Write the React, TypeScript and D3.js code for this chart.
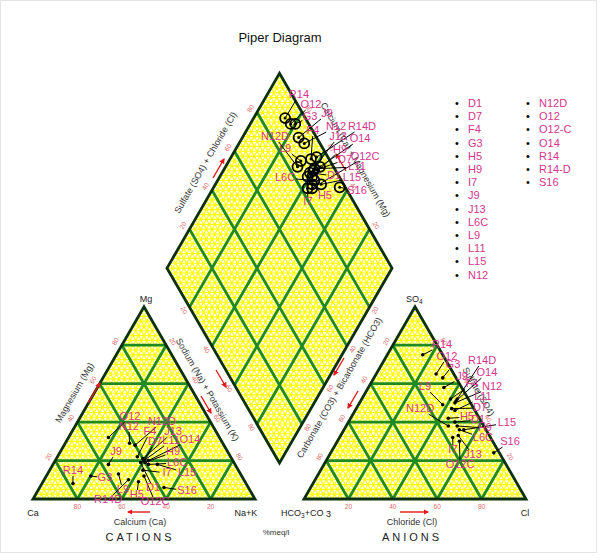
import React from "react";
import * as d3 from "d3";

// ---------------- DATA ----------------
const legendNames = ["D1","D7","F4","G3","H5","H9","I7","J9","J13","L6C","L9","L11","L15","N12","N12D","O12","O12-C","O14","R14","R14-D","S16"];
const plotNames = ["D1","D7","F4","G3","H5","H9","I7","J9","J13","L6C","L9","L11","L15","N12","N12D","O12","O12C","O14","R14","R14D","S16"];
// cations (% meq/l)
const caPct = [42,40,42,68,48,40,43,57,40,39,55,40,35,42,40,50,44,38,78,52,38];
const mgPct = [19,20,22,12,9,19,15,18,21,18,13,20,18,29,28,32,12,20,8,10,6];
const naPct = [39,40,36,20,43,41,42,25,39,43,32,40,47,29,32,18,44,42,14,38,56];
// anions (% meq/l)
const hco3Pct = [12,10,8,6,14,12,17,8,14,12,13,9,10,7,16,8,15,6,9,5,2.5];
const so4Pct = [40,47,52,63,42,38,32,58,33,36,49,46,36,50,38,65,30,51,75,52,24];
const clPct = [48,43,40,31,44,50,51,34,53,52,38,45,54,43,46,27,55,43,16,43,73.5];
// label anchors, in each panel's percent space [across, up]
const cationLabelAt = [[54.1,5.7],[55,29.6],[52.7,34.8],[32.4,10.9],[46.8,2.1],[63.1,24.4],[60.4,13.5],[37.4,24.4],[63.1,34.8],[64.9,18.7],[40.5,4.7],[62.2,30.2],[69.4,13.5],[43.2,37.4],[58.1,40],[43.7,42.6],[55,-1.6],[70.7,30.7],[18,14.6],[33.8,-0.5],[69.4,4.2]];
const anionLabelAt = [[78.4,41.1],[79.3,47.3],[75.7,59.8],[67.1,69.7],[73.4,42.6],[81.5,36.9],[67.1,25.5],[71.2,63.4],[76.1,22.9],[80.6,31.7],[54.5,58.2],[80.6,53],[91.4,39.5],[84.7,58.2],[52.3,46.8],[64.4,73.8],[70.3,17.7],[82.4,65.5],[62.2,80.1],[80.2,71.8],[92.8,29.6]];
const diamondLabelAt = [[48.4,147.3],[58.2,155.5],[29.8,170.3],[27.1,177.5],[40.4,137],[53.8,160.6],[25.3,133.9],[42.2,179.1],[52,167.3],[4.9,146.2],[4.9,161.1],[68.9,151.9],[64.4,146.2],[50.2,172.4],[-4,167.3],[28,183.7],[76,157],[71.6,166.2],[17.3,188.8],[73.3,172.4],[68.9,139.6]];
const tickValues = [20, 40, 60, 80];

// ---------------- LAYOUT ----------------
const W = 603, H = 560;
const S60 = Math.sqrt(3) / 2;
const TRI = 222, BASE = 499, CAT_X0 = 33, AN_X0 = 304;
const DIA = 225, DIA_CX = 279.5, DIA_BY = 463;
const FONT = "Liberation Sans, Arial, Helvetica, sans-serif";
const PINK = "#d6358e";
const TICKRED = "#e06a6a";
const GREEN = "#1f8a1f";
const EDGE = "#0c2f0c";
const FINE = 2.5;

const catX = d3.scaleLinear().domain([0, 100]).range([CAT_X0, CAT_X0 + TRI]);
const anX = d3.scaleLinear().domain([0, 100]).range([AN_X0, AN_X0 + TRI]);
const triY = d3.scaleLinear().domain([0, 100]).range([BASE, BASE - TRI * S60]);
const diaX = d3.scaleLinear().domain([-100, 100]).range([DIA_CX - DIA / 2, DIA_CX + DIA / 2]);
const diaY = d3.scaleLinear().domain([0, 200]).range([DIA_BY, DIA_BY - 2 * DIA * S60]);

type P = [number, number];
const catPt = (na: number, mg: number): P => [catX(na + mg / 2), triY(mg)];
const anPt = (cl: number, so4: number): P => [anX(cl + so4 / 2), triY(so4)];
const diaPt = (u: number, v: number): P => [diaX(v - u), diaY(u + v)];

const line = d3.line<P>();

function triSegs(step: number): [P, P][] {
  const out: [P, P][] = [];
  for (let k = step; k < 100 - 1e-9; k += step) {
    out.push([[0, k], [100 - k, k]]);
    out.push([[k, 0], [k, 100 - k]]);
    out.push([[100 - k, 0], [0, 100 - k]]);
  }
  return out;
}
function diaSegs(step: number, horiz: boolean): [P, P][] {
  const out: [P, P][] = [];
  for (let k = step; k < 100 - 1e-9; k += step) {
    out.push([[k, 0], [k, 100]]);
    out.push([[0, k], [100, k]]);
  }
  if (horiz) {
    for (let s = step; s < 200 - 1e-9; s += step) {
      if (s <= 100) out.push([[s, 0], [0, s]]);
      else out.push([[100, s - 100], [s - 100, 100]]);
    }
  }
  return out;
}

function segPath(segs: [P, P][], f: (a: number, b: number) => P) {
  return segs.map(([a, b]) => line([f(a[0], a[1]), f(b[0], b[1])])).join("");
}

function leader(p: P, c: P, name: string): P | null {
  const hw = name.length * 3.3 + 1, hh = 5;
  const dx = c[0] - p[0], dy = c[1] - p[1];
  const t = Math.min(dx !== 0 ? hw / Math.abs(dx) : Infinity, dy !== 0 ? hh / Math.abs(dy) : Infinity);
  if (t >= 1) return null;
  return [c[0] - dx * t, c[1] - dy * t];
}

function Panel({ outline, fine, major, }: { outline: P[]; fine: string; major: string }) {
  return (
    <g>
      <path d={fine} stroke="#ffff00" strokeWidth={1.15} fill="none" />
      <path d={major} stroke={GREEN} strokeWidth={2.8} fill="none" />
      <path d={line(outline)! + "Z"} stroke={EDGE} strokeWidth={2.8} fill="none" strokeLinejoin="miter" />
    </g>
  );
}

function TickText({ p, normal, rot, text }: { p: P; normal: P; rot: number; text: string }) {
  const x = p[0] + normal[0] * 7, y = p[1] + normal[1] * 7;
  return (
    <text x={x} y={y} transform={`rotate(${rot},${x},${y})`} fontSize={6.5} fill={TICKRED} textAnchor="middle" dominantBaseline="middle" fontFamily={FONT}>{text}</text>
  );
}

function Arrow({ from, to }: { from: P; to: P }) {
  return <line x1={from[0]} y1={from[1]} x2={to[0]} y2={to[1]} stroke="#e41a1a" strokeWidth={1.4} markerEnd="url(#ah)" />;
}

function RotText({ x, y, rot, children, size = 9 }: { x: number; y: number; rot: number; children: any; size?: number }) {
  return (
    <text x={x} y={y} transform={`rotate(${rot},${x},${y})`} fontSize={size} fill="#333" textAnchor="middle" dominantBaseline="middle" fontFamily={FONT}>{children}</text>
  );
}

export default function App() {
  const n = plotNames.length;
  const catPts = d3.range(n).map((i) => catPt(naPct[i], mgPct[i]));
  const anPts = d3.range(n).map((i) => anPt(clPct[i], so4Pct[i]));
  const diaPts = d3.range(n).map((i) => diaPt(caPct[i] + mgPct[i], so4Pct[i] + clPct[i]));
  const catLab = cationLabelAt.map(([a, b]) => [catX(a), triY(b)] as P);
  const anLab = anionLabelAt.map(([a, b]) => [anX(a), triY(b)] as P);
  const diaLab = diamondLabelAt.map(([a, b]) => [diaX(a), diaY(b)] as P);

  const tri = triSegs(FINE);
  const triMajor = triSegs(20);
  const catOutline: P[] = [catPt(0, 0), catPt(100, 0), catPt(0, 100)];
  const anOutline: P[] = [anPt(0, 0), anPt(100, 0), anPt(0, 100)];
  const diaOutline: P[] = [diaPt(0, 0), diaPt(100, 0), diaPt(100, 100), diaPt(0, 100)];

  const nl: P = [-S60, -0.5], nr: P = [S60, -0.5], nll: P = [-S60, 0.5], nlr: P = [S60, 0.5];

  const renderMarks = (pts: P[], labs: P[], ring: boolean) => (
    <g>
      {pts.map((p, i) => {
        const e = leader(p, labs[i], plotNames[i]);
        return e ? <line key={"l" + i} x1={p[0]} y1={p[1]} x2={e[0]} y2={e[1]} stroke="#000" strokeWidth={1} /> : null;
      })}
      {pts.map((p, i) => ring ? (
        <g key={"p" + i}>
          <circle cx={p[0]} cy={p[1]} r={5} fill="none" stroke="#000" strokeWidth={1.8} />
          <circle cx={p[0]} cy={p[1]} r={1.5} fill="#000" />
        </g>
      ) : (
        <circle key={"p" + i} cx={p[0]} cy={p[1]} r={1.8} fill="#000" />
      ))}
      {labs.map((c, i) => (
        <text key={"t" + i} x={c[0]} y={c[1]} fontSize={11} fill={PINK} textAnchor="middle" dominantBaseline="middle" fontFamily={FONT}>{plotNames[i]}</text>
      ))}
    </g>
  );

  return (
    <svg width={W} height={H} style={{ position: "absolute", left: 0, top: 0, background: "#fff" }} fontFamily={FONT}>
      <defs>
        <marker id="ah" viewBox="0 0 10 10" refX="8" refY="5" markerWidth="4" markerHeight="4" orient="auto">
          <path d="M0,0L10,5L0,10Z" fill="#e41a1a" />
        </marker>
      </defs>
      <rect x={0.5} y={0.5} width={W - 7} height={H - 8} fill="#fff" stroke="#e4e4e4" />
      <text x={280} y={42} fontSize={13} textAnchor="middle" fontFamily={FONT} fill="#111">Piper Diagram</text>

      <Panel outline={catOutline} fine={segPath(tri, catPt)} major={segPath(triMajor, catPt)} />
      <Panel outline={anOutline} fine={segPath(tri, anPt)} major={segPath(triMajor, anPt)} />
      <Panel outline={diaOutline} fine={segPath(diaSegs(FINE, true), diaPt)} major={segPath(diaSegs(20, false), diaPt)} />

      {/* tick labels */}
      {tickValues.map((k) => (
        <g key={"tk" + k}>
          <TickText p={catPt(100 - k, 0)} normal={[0, 1.15]} rot={0} text={String(k)} />
          <TickText p={catPt(0, k)} normal={nl} rot={-60} text={String(k)} />
          <TickText p={catPt(k, 100 - k)} normal={nr} rot={60} text={String(k)} />
          <TickText p={anPt(k, 0)} normal={[0, 1.15]} rot={0} text={String(k)} />
          <TickText p={anPt(0, 100 - k)} normal={nl} rot={-60} text={String(k)} />
          <TickText p={anPt(100 - k, k)} normal={nr} rot={60} text={String(k)} />
          <TickText p={diaPt(100, k)} normal={nl} rot={-60} text={String(k)} />
          <TickText p={diaPt(k, 100)} normal={nr} rot={60} text={String(k)} />
          <TickText p={diaPt(100 - k, 0)} normal={nll} rot={60} text={String(k)} />
          <TickText p={diaPt(0, 100 - k)} normal={nlr} rot={-60} text={String(k)} />
        </g>
      ))}

      {/* axis titles */}
      <RotText x={75} y={393} rot={-60}>Magnesium (Mg)</RotText>
      <Arrow from={[88, 403]} to={[100, 383]} />
      <RotText x={207} y={390} rot={60}>Sodium (Na) + Potassium (K)</RotText>
      <Arrow from={[216, 370]} to={[226, 387]} />
      <Arrow from={[201, 396]} to={[211, 413]} />
      <RotText x={340} y={388} rot={-60}>Carbonate (CO3) + Bicarbonate (HCO3)</RotText>
      <Arrow from={[344, 358]} to={[334, 375]} />
      <Arrow from={[358, 391]} to={[348, 408]} />
      <RotText x={206} y={163} rot={-60}>Sulfate (SO4) + Chloride (Cl)</RotText>
      <Arrow from={[213, 178]} to={[224, 159]} />
      <RotText x={355} y={160} rot={60}>Calcium (Ca) + Magnesium (Mg)</RotText>
      <Arrow from={[346, 171]} to={[336, 154]} />
      <RotText x={478} y={392} rot={60}>Sulfate (SO4)</RotText>
      <Arrow from={[150, 512]} to={[128, 512]} />
      <Arrow from={[400, 512]} to={[428, 512]} />
      <text x={140} y={523} fontSize={9} textAnchor="middle" fill="#333" dominantBaseline="middle">Calcium (Ca)</text>
      <text x={412} y={523} fontSize={9} textAnchor="middle" fill="#333" dominantBaseline="middle">Chloride (Cl)</text>
      <text x={140} y={538} fontSize={11} textAnchor="middle" fill="#222" letterSpacing={3} dominantBaseline="middle">CATIONS</text>
      <text x={412} y={538} fontSize={11} textAnchor="middle" fill="#222" letterSpacing={3} dominantBaseline="middle">ANIONS</text>
      <text x={276} y={533} fontSize={8} textAnchor="middle" fill="#333" dominantBaseline="middle">%meq/l</text>

      {/* corner labels */}
      <text x={146} y={302} fontSize={9} textAnchor="middle" fill="#222">Mg</text>
      <text x={33} y={516} fontSize={9} textAnchor="middle" fill="#222">Ca</text>
      <text x={246} y={516} fontSize={9} textAnchor="middle" fill="#222">Na+K</text>
      <text x={281} y={516} fontSize={9} textAnchor="start" fill="#222">HCO<tspan fontSize={6.5} dy={2}>3</tspan><tspan dy={-2}>+CO </tspan><tspan dy={1}>3</tspan></text>
      <text x={525} y={516} fontSize={9} textAnchor="middle" fill="#222">Cl</text>
      <text x={406} y={302} fontSize={9} textAnchor="start" fill="#222">SO<tspan fontSize={6.5} dy={2}>4</tspan></text>

      {renderMarks(catPts, catLab, false)}
      {renderMarks(anPts, anLab, false)}
      {renderMarks(diaPts, diaLab, true)}

      {/* legend */}
      {legendNames.map((nm, i) => {
        const col = i < 14 ? 0 : 1;
        const row = col === 0 ? i : i - 14;
        const bx = col === 0 ? 457 : 528;
        const y = 104 + row * 13.2;
        return (
          <g key={"lg" + i}>
            <text x={bx} y={y} fontSize={11} fill="#000" textAnchor="middle" dominantBaseline="middle">•</text>
            <text x={bx + 11} y={y} fontSize={11} fill={PINK} dominantBaseline="middle">{nm}</text>
          </g>
        );
      })}
    </svg>
  );
}
